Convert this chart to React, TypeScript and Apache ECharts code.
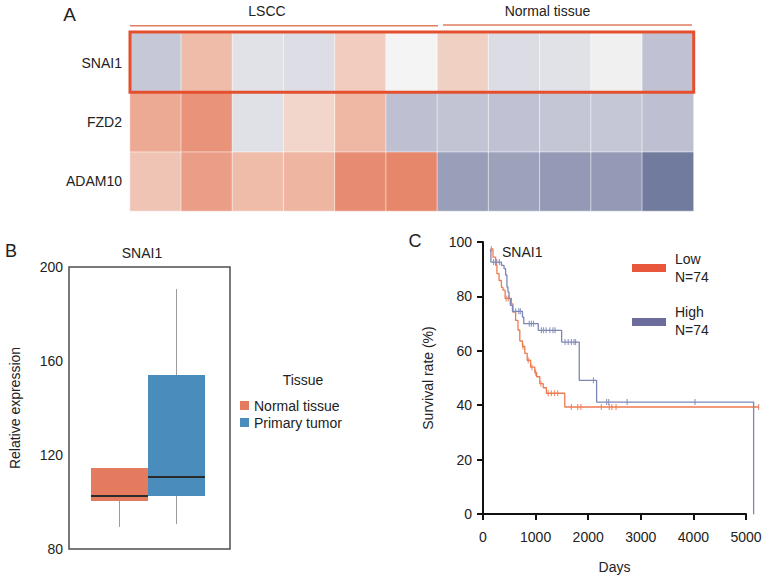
import React, { useEffect, useRef } from "react";
import * as echarts from "echarts";

// ---------- Data ----------
const sampleNames = ["T1", "T2", "T3", "T4", "T5", "T6", "N1", "N2", "N3", "N4", "N5"];
const geneNames = ["ADAM10", "FZD2", "SNAI1"]; // bottom to top
const snai1Vals = [-0.33, 0.47, -0.14, -0.17, 0.33, 0.0, 0.3, -0.18, -0.14, -0.03, -0.38];
const fzd2Vals = [0.62, 0.82, -0.15, 0.25, 0.5, -0.4, -0.37, -0.38, -0.35, -0.34, -0.4];
const adam10Vals = [0.4, 0.72, 0.47, 0.53, 0.88, 0.93, -0.68, -0.65, -0.72, -0.72, -1.0];

const boxCategories = ["Normal tissue", "Primary tumor"];
// [index, min, Q1, median, Q3, max]
const boxStats = [
  [0, 89.4, 100.4, 102.6, 114.5, 114.5],
  [1, 90.6, 102.6, 110.6, 154.0, 190.6],
];
const boxColors = ["#e47b5f", "#4a8dbd"];

const lowCurve = [
  [140, 97.5], [190, 94.5], [240, 91.5], [265, 88.5], [305, 86], [350, 83.5], [380, 82.5],
  [420, 79.5], [540, 77.5], [570, 74.5], [620, 71.5], [665, 68], [700, 64], [750, 62],
  [795, 59.5], [840, 57], [905, 54.5], [985, 52.5], [1020, 51], [1080, 48.5], [1145, 47],
  [1205, 45], [1555, 40], [5240, 40],
];
const highCurve = [
  [130, 97], [150, 92.7], [350, 91.5], [400, 90.3], [430, 88], [455, 83.6], [475, 81.8],
  [495, 79.4], [520, 77], [560, 74.8], [750, 72.7], [775, 70.3], [1050, 67.9], [1495, 63.6],
  [1830, 49.7], [2160, 41.8], [5145, 41.8], [5145, 1],
];
const lowCensors = [
  [160, 97.5], [440, 79.5], [480, 79.5], [760, 62], [860, 57], [930, 54.5], [1000, 52.5],
  [1100, 48.5], [1240, 45], [1300, 45], [1360, 45], [1420, 45], [1680, 40], [1800, 40],
  [1860, 40], [2250, 40], [2400, 40], [2450, 40], [2530, 40], [5240, 40],
];
const highCensors = [
  [200, 92.7], [260, 92.7], [310, 92.7], [620, 74.8], [680, 74.8], [710, 74.8], [880, 70.3],
  [920, 70.3], [960, 70.3], [1110, 67.9], [1150, 67.9], [1200, 67.9], [1270, 67.9],
  [1330, 67.9], [1370, 67.9], [1560, 63.6], [1620, 63.6], [1680, 63.6], [1730, 63.6],
  [1760, 63.6], [2100, 49.7], [2350, 41.8], [2390, 41.8], [2740, 41.8], [4030, 41.8],
];
const kmLegend = ["Low\nN=74", "High\nN=74"];
const kmAxisMax = 5000;
const kmDataMax = 5300;

const FONT = "'Liberation Sans', Arial, sans-serif";
const TXT = "#222";
const LOW_COLOR = "#ee7a50";
const HIGH_COLOR = "#7d87b5";

export default function App() {
  const ref = useRef<HTMLDivElement>(null);
  useEffect(() => {
    if (!ref.current) return;
    const chart = echarts.init(ref.current, undefined, { renderer: "svg" });

    const heatData: number[][] = [];
    [adam10Vals, fzd2Vals, snai1Vals].forEach((row, yi) =>
      row.forEach((v, xi) => heatData.push([xi, yi, v]))
    );

    const text = (x: number, y: number, t: string, size = 14, align = "center", extra: any = {}) => ({
      type: "text",
      x,
      y,
      style: { text: t, fill: TXT, font: `${size}px ${FONT}`, textAlign: align, textVerticalAlign: "middle", ...extra },
    });

    const kmLeft = 483;
    const kmWidth = 263;

    const option: any = {
      animation: false,
      textStyle: { fontFamily: FONT },
      visualMap: {
        show: false,
        seriesIndex: 0,
        dimension: 2,
        min: -1,
        max: 1,
        inRange: { color: ["#717b9d", "#b0b2c8", "#f4f4f4", "#efb8a4", "#e47e62"] },
      },
      grid: [
        { left: 130, top: 33, width: 563.5, height: 178 },
        { left: 69, top: 267, width: 161, height: 282, show: true, borderColor: "#4d4d4d", borderWidth: 1.5, backgroundColor: "transparent" },
        { left: 91, top: 267, width: 114, height: 282 },
        { left: kmLeft, top: 242, width: kmWidth, height: 275 },
        { left: kmLeft, top: 242, width: (kmWidth * kmDataMax) / kmAxisMax, height: 275 },
      ],
      xAxis: [
        { type: "category", gridIndex: 0, data: sampleNames, show: false },
        { type: "value", gridIndex: 1, show: false, min: 0, max: 1 },
        { type: "category", gridIndex: 2, data: boxCategories, show: false },
        {
          type: "value", gridIndex: 3, min: 0, max: kmAxisMax, interval: 1000,
          name: "Days", nameLocation: "middle", nameGap: 46,
          nameTextStyle: { fontSize: 14, color: TXT, fontFamily: FONT },
          axisLine: { lineStyle: { color: "#111", width: 2 } },
          axisTick: { length: 6, lineStyle: { color: "#111", width: 2 } },
          axisLabel: { fontSize: 14, color: TXT, margin: 16, formatter: (v: number) => String(v) },
          splitLine: { show: false },
        },
        { type: "value", gridIndex: 4, min: 0, max: kmDataMax, show: false },
      ],
      yAxis: [
        {
          type: "category", gridIndex: 0, data: geneNames,
          axisLine: { show: false }, axisTick: { show: false },
          axisLabel: { fontSize: 14, color: TXT, margin: 8 },
        },
        {
          type: "value", gridIndex: 1, min: 80, max: 200, interval: 40,
          name: "Relative expression", nameLocation: "middle", nameGap: 47, nameRotate: 90,
          nameTextStyle: { fontSize: 14, color: TXT, fontFamily: FONT },
          axisLine: { show: false }, axisTick: { show: false },
          axisLabel: { fontSize: 14, color: TXT, margin: 6 },
          splitLine: { show: false },
        },
        { type: "value", gridIndex: 2, min: 80, max: 200, show: false },
        {
          type: "value", gridIndex: 3, min: 0, max: 100, interval: 20,
          name: "Survival rate (%)", nameLocation: "middle", nameGap: 48, nameRotate: 90,
          nameTextStyle: { fontSize: 14, color: TXT, fontFamily: FONT },
          axisLine: { lineStyle: { color: "#111", width: 2 } },
          axisTick: { length: 6, lineStyle: { color: "#111", width: 2 } },
          axisLabel: { fontSize: 14, color: TXT, margin: 11 },
          splitLine: { show: false },
        },
        { type: "value", gridIndex: 4, min: 0, max: 100, show: false },
      ],
      series: [
        {
          type: "heatmap",
          xAxisIndex: 0,
          yAxisIndex: 0,
          data: heatData,
          itemStyle: { borderColor: "rgba(255,255,255,0.55)", borderWidth: 1 },
        },
        {
          type: "custom",
          xAxisIndex: 2,
          yAxisIndex: 2,
          data: boxStats,
          encode: { x: 0, y: [1, 2, 3, 4, 5] },
          renderItem: (params: any, api: any) => {
            const xi = api.value(0);
            const w = api.size([1, 0])[0];
            const pMin = api.coord([xi, api.value(1)]);
            const yQ1 = api.coord([xi, api.value(2)])[1];
            const yMed = api.coord([xi, api.value(3)])[1];
            const yQ3 = api.coord([xi, api.value(4)])[1];
            const yMax = api.coord([xi, api.value(5)])[1];
            const cx = pMin[0];
            const whisker = { stroke: "#9a9a9a", lineWidth: 1 };
            return {
              type: "group",
              children: [
                { type: "line", shape: { x1: cx, y1: pMin[1], x2: cx, y2: yQ1 }, style: whisker },
                { type: "line", shape: { x1: cx, y1: yQ3, x2: cx, y2: yMax }, style: whisker },
                { type: "rect", shape: { x: cx - w / 2, y: yQ3, width: w, height: yQ1 - yQ3 }, style: { fill: boxColors[params.dataIndex] } },
                { type: "line", shape: { x1: cx - w / 2, y1: yMed, x2: cx + w / 2, y2: yMed }, style: { stroke: "#2b2b2b", lineWidth: 2 } },
              ],
            };
          },
        },
        {
          type: "line", name: "Low", xAxisIndex: 4, yAxisIndex: 4, data: lowCurve, step: "end",
          showSymbol: false, symbol: "none", lineStyle: { color: LOW_COLOR, width: 1.3 },
        },
        {
          type: "line", name: "High", xAxisIndex: 4, yAxisIndex: 4, data: highCurve, step: "end",
          showSymbol: false, symbol: "none", lineStyle: { color: HIGH_COLOR, width: 1.3 },
        },
        {
          type: "scatter", xAxisIndex: 4, yAxisIndex: 4, data: lowCensors, symbol: "rect",
          symbolSize: [1.2, 6], clip: false, itemStyle: { color: LOW_COLOR },
        },
        {
          type: "scatter", xAxisIndex: 4, yAxisIndex: 4, data: highCensors, symbol: "rect",
          symbolSize: [1.2, 6], clip: false, itemStyle: { color: HIGH_COLOR },
        },
      ],
      graphic: [
        // Panel letters
        text(69.5, 14, "A", 19),
        text(11, 251, "B", 18),
        text(415, 241, "C", 18),
        // Heatmap headers
        text(267, 11, "LSCC", 14),
        text(547.5, 11, "Normal tissue", 14),
        { type: "line", shape: { x1: 130, y1: 25.7, x2: 438, y2: 25.7 }, style: { stroke: "#e07e5e", lineWidth: 1.5 } },
        { type: "line", shape: { x1: 443, y1: 25, x2: 692, y2: 25 }, style: { stroke: "#e07e5e", lineWidth: 1.5 } },
        // SNAI1 highlight box
        { type: "rect", shape: { x: 130, y: 32, width: 563.7, height: 60.3 }, style: { fill: "none", stroke: "#e4502e", lineWidth: 3 }, z: 100 },
        // Box plot title & legend
        text(142, 253, "SNAI1", 14),
        text(303, 380, "Tissue", 14),
        { type: "rect", shape: { x: 240, y: 401, width: 9, height: 9 }, style: { fill: boxColors[0] } },
        { type: "rect", shape: { x: 240, y: 418, width: 9, height: 9 }, style: { fill: boxColors[1] } },
        text(254, 406, boxCategories[0], 14, "left"),
        text(254, 423, boxCategories[1], 14, "left"),
        // KM label & legend
        text(502, 252, "SNAI1", 14, "left"),
        { type: "rect", shape: { x: 632, y: 264, width: 34, height: 8 }, style: { fill: "#e8573b" } },
        { type: "rect", shape: { x: 632, y: 318, width: 34, height: 8 }, style: { fill: "#6b6c9c" } },
        text(675, 268, kmLegend[0], 14, "left", { lineHeight: 18 }),
        text(675, 321, kmLegend[1], 14, "left", { lineHeight: 18 }),
      ],
    };

    chart.setOption(option);
    return () => chart.dispose();
  }, []);

  return (
    <div
      ref={ref}
      style={{ position: "fixed", left: 0, top: 0, width: 765, height: 575, background: "#fff" }}
    />
  );
}
